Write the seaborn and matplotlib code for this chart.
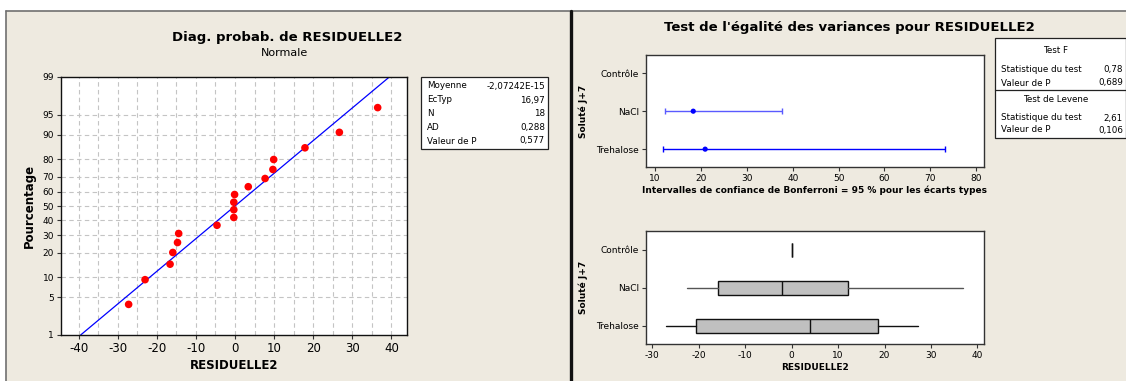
import matplotlib
matplotlib.use("Agg")
import matplotlib.pyplot as plt
import numpy as np
import pandas as pd
import seaborn as sns
from statistics import NormalDist
from matplotlib.patches import Rectangle
from matplotlib.lines import Line2D

# ---------------- data ----------------
residuals = [-27.2, -23.0, -16.6, -15.9, -14.7, -14.4, -4.6, -0.3, -0.3, -0.3,
             -0.1, 3.4, 7.7, 9.7, 9.9, 17.9, 26.7, 36.5]
percents = [3.8, 9.2, 14.7, 20.1, 25.5, 31.0, 36.4, 41.8, 47.3, 52.7,
            58.2, 63.6, 69.0, 74.5, 79.9, 85.3, 90.8, 96.2]
fit_mean = -2.07242e-15
fit_sd = 16.97
pct_ticks = [1, 5, 10, 20, 30, 40, 50, 60, 70, 80, 90, 95, 99]
x_ticks_left = [-40, -30, -20, -10, 0, 10, 20, 30, 40]
stats_labels = ["Moyenne", "EcTyp", "N", "AD", "Valeur de P"]
stats_values = ["-2,07242E-15", "16,97", "18", "0,288", "0,577"]

groups = ["Contrôle", "NaCl", "Trehalose"]
sd_est = [np.nan, 18.3, 20.9]
ci_low = [np.nan, 12.2, 11.6]
ci_high = [np.nan, 37.7, 73.3]
ci_ticks = [10, 20, 30, 40, 50, 60, 70, 80]

box_low = [0.0, -22.5, -26.9]
box_q1 = [0.0, -15.9, -20.5]
box_med = [0.0, -2.0, 3.9]
box_q3 = [0.0, 12.1, 18.7]
box_high = [0.0, 36.8, 27.1]
box_ticks = [-30, -20, -10, 0, 10, 20, 30, 40]

testF_rows = [("Statistique du test", "0,78"), ("Valeur de P", "0,689")]
levene_rows = [("Statistique du test", "2,61"), ("Valeur de P", "0,106")]

# ---------------- figure ----------------
sns.set_style("ticks")
plt.rcParams["font.family"] = ["DejaVu Sans"]
for k in ["text.color", "axes.labelcolor", "xtick.color", "ytick.color"]:
    plt.rcParams[k] = "black"
W, H = 1126, 381
fig = plt.figure(figsize=(W / 100, H / 100), dpi=100, facecolor="white")
BG = "#EEEAE0"


def fx(x):
    return x / W


def fy(y):
    return 1 - y / H


def rect(x0, y0, x1, y1):
    return [x0 / W, 1 - y1 / H, (x1 - x0) / W, (y1 - y0) / H]


# panel backgrounds
fig.add_artist(Rectangle((fx(5.5), 0), fx(1126) - fx(5.5), fy(10.5), transform=fig.transFigure,
                         facecolor=BG, edgecolor="none", zorder=0))
fig.add_artist(Line2D([fx(5.5), fx(1126)], [fy(10.5), fy(10.5)], transform=fig.transFigure,
                      color="#707070", lw=1.2))
fig.add_artist(Line2D([fx(5.5), fx(5.5)], [0, fy(10.5)], transform=fig.transFigure,
                      color="#707070", lw=1.2))
fig.add_artist(Line2D([fx(571), fx(571)], [0, fy(10.5)], transform=fig.transFigure,
                      color="#111111", lw=2.4))

# ---------------- probability plot ----------------
nd = NormalDist()
fwd = np.vectorize(lambda p: nd.inv_cdf(min(max(p / 100.0, 1e-9), 1 - 1e-9)), otypes=[float])
inv = np.vectorize(lambda z: nd.cdf(z) * 100.0, otypes=[float])

ax1 = fig.add_axes(rect(61, 77, 407, 335))
ax1.set_facecolor("white")
ax1.set_yscale("function", functions=(fwd, inv))
ax1.set_ylim(1, 99)
ax1.set_xlim(-44.5, 44.0)

for gx in np.arange(-40, 41, 5):
    ax1.axvline(gx, color="#C4C4C4", lw=0.8, ls=(0, (4, 3)), zorder=0)
for gy in pct_ticks[1:-1]:
    ax1.axhline(gy, color="#C4C4C4", lw=0.8, ls=(0, (4, 3)), zorder=0)

z_lo, z_hi = nd.inv_cdf(0.01), nd.inv_cdf(0.99)
fit_df = pd.DataFrame({"x": [fit_mean + fit_sd * z_lo, fit_mean + fit_sd * z_hi], "y": [1, 99]})
sns.lineplot(data=fit_df, x="x", y="y", ax=ax1, color="#0000FF", lw=0.9, zorder=2)
pts = pd.DataFrame({"x": residuals, "y": percents})
sns.scatterplot(data=pts, x="x", y="y", ax=ax1, color="#FF0000", s=30, edgecolor="none", zorder=3)

ax1.set_yticks(pct_ticks)
ax1.set_yticklabels([str(t) for t in pct_ticks], fontsize=6.5)
ax1.set_xticks(x_ticks_left)
ax1.set_xticklabels([str(t) for t in x_ticks_left], fontsize=8.5)
ax1.yaxis.set_minor_locator(matplotlib.ticker.NullLocator())
ax1.tick_params(axis="both", direction="out", length=3, width=0.8, color="#333333", pad=2)
ax1.set_xlabel("RESIDUELLE2", fontsize=8.5, fontweight="bold", labelpad=3)
ax1.set_ylabel("Pourcentage", fontsize=8.5, fontweight="bold", labelpad=5)
for s in ax1.spines.values():
    s.set_color("#111111")
    s.set_linewidth(1.0)

fig.text(fx(287), fy(38), "Diag. probab. de RESIDUELLE2", ha="center", va="center",
         fontsize=9.5, fontweight="bold")
fig.text(fx(285), fy(53), "Normale", ha="center", va="center", fontsize=8)

# stats box
fig.add_artist(Rectangle((fx(421), fy(149)), fx(548) - fx(421), fy(77) - fy(149),
                         transform=fig.transFigure, facecolor="white", edgecolor="#222222", lw=0.9))
row_y = [86, 100, 114, 127.5, 141]
for lab, val, yy in zip(stats_labels, stats_values, row_y):
    fig.text(fx(427), fy(yy), lab, ha="left", va="center", fontsize=6.3)
    fig.text(fx(545), fy(yy), val, ha="right", va="center", fontsize=6.3)

# ---------------- right panel title ----------------
fig.text(fx(849), fy(28), "Test de l'égalité des variances pour RESIDUELLE2", ha="center",
         va="center", fontsize=9.5, fontweight="bold")

# ---------------- CI plot ----------------
ax2 = fig.add_axes(rect(646, 55, 984, 167))
ax2.set_facecolor("white")
ypos = np.arange(len(groups))
ci_colors = ["#0000FF", "#5A5AFF", "#0000FF"]
for i in range(len(groups)):
    if np.isnan(sd_est[i]):
        continue
    ax2.errorbar([sd_est[i]], [ypos[i]],
                 xerr=[[sd_est[i] - ci_low[i]], [ci_high[i] - sd_est[i]]],
                 fmt="none", ecolor=ci_colors[i], elinewidth=1.0, capsize=2.5, capthick=1.0)
ci_df = pd.DataFrame({"sd": sd_est, "y": ypos})
sns.scatterplot(data=ci_df.dropna(), x="sd", y="y", ax=ax2, color="#0000FF", s=14,
                edgecolor="none", zorder=3)
ax2.set_xlim(8.0, 81.7)
ax2.set_ylim(2.47, -0.48)
ax2.set_yticks(ypos)
ax2.set_yticklabels(groups, fontsize=6.5)
ax2.set_xticks(ci_ticks)
ax2.set_xticklabels([str(t) for t in ci_ticks], fontsize=6.5)
ax2.tick_params(axis="both", direction="out", length=3, width=0.8, color="#333333", pad=2)
ax2.set_xlabel("Intervalles de confiance de Bonferroni = 95 % pour les écarts types",
               fontsize=6.5, fontweight="bold", labelpad=2)
ax2.set_ylabel("Soluté J+7", fontsize=6.5, fontweight="bold", labelpad=6)
for s in ax2.spines.values():
    s.set_color("#333333")
    s.set_linewidth(1.0)

# tests box
fig.add_artist(Rectangle((fx(995), fy(138)), fx(1125.5) - fx(995), fy(38) - fy(138),
                         transform=fig.transFigure, facecolor="white", edgecolor="#222222", lw=0.9))
fig.add_artist(Line2D([fx(995), fx(1125.5)], [fy(89.5), fy(89.5)], transform=fig.transFigure,
                      color="#222222", lw=0.9))
fig.text(fx(1056), fy(50.5), "Test F", ha="center", va="center", fontsize=6.3)
fig.text(fx(1056), fy(100), "Test de Levene", ha="center", va="center", fontsize=6.3)
for (lab, val), yy in zip(testF_rows, [69.5, 83]):
    fig.text(fx(1001), fy(yy), lab, ha="left", va="center", fontsize=6.3)
    fig.text(fx(1123), fy(yy), val, ha="right", va="center", fontsize=6.3)
for (lab, val), yy in zip(levene_rows, [118, 130]):
    fig.text(fx(1001), fy(yy), lab, ha="left", va="center", fontsize=6.3)
    fig.text(fx(1123), fy(yy), val, ha="right", va="center", fontsize=6.3)

# ---------------- box plot ----------------
ax3 = fig.add_axes(rect(646, 231, 984, 344))
ax3.set_facecolor("white")
bstats = []
for i, g in enumerate(groups):
    bstats.append({"label": g, "whislo": box_low[i], "q1": box_q1[i], "med": box_med[i],
                   "q3": box_q3[i], "whishi": box_high[i], "fliers": []})
bp = ax3.bxp(bstats, positions=ypos, orientation="horizontal", widths=0.36,
             patch_artist=True, showcaps=False, showfliers=False,
             boxprops=dict(facecolor="#C0C0C0", edgecolor="#111111", lw=1.0),
             medianprops=dict(color="#111111", lw=1.0),
             whiskerprops=dict(color="#111111", lw=1.0))
for w in bp["whiskers"][2:4]:
    w.set_color("#555555")
ax3.set_xlim(-31.3, 41.4)
ax3.set_ylim(2.48, -0.5)
ax3.set_yticks(ypos)
ax3.set_yticklabels(groups, fontsize=6.5)
ax3.set_xticks(box_ticks)
ax3.set_xticklabels([str(t) for t in box_ticks], fontsize=6.5)
ax3.tick_params(axis="both", direction="out", length=3, width=0.8, color="#333333", pad=2)
ax3.set_xlabel("RESIDUELLE2", fontsize=6.5, fontweight="bold", labelpad=2)
ax3.set_ylabel("Soluté J+7", fontsize=6.5, fontweight="bold", labelpad=6)
for s in ax3.spines.values():
    s.set_color("#333333")
    s.set_linewidth(1.0)

fig.savefig("out.png", dpi=100, facecolor="white")
